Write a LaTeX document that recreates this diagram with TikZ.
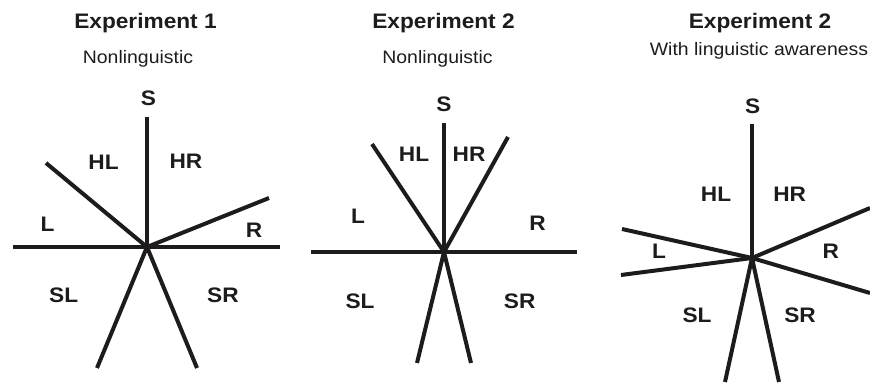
\documentclass[tikz,border=0pt]{standalone}
\usepackage{fontspec}
\setmainfont{Liberation Sans}[FakeStretch=1.08]
\definecolor{ink}{RGB}{30,27,27}
\begin{document}
\begin{tikzpicture}[x=1pt,y=-1pt,
  ray/.style={line width=4pt, draw=ink},
  axisline/.style={line width=4.5pt, draw=ink},
  lbl/.style={font=\fontsize{21}{22}\selectfont\bfseries, text=ink, anchor=base, inner sep=0pt},
  ttl/.style={font=\fontsize{21}{22}\selectfont\bfseries, text=ink, anchor=base, inner sep=0pt},
  sub/.style={font=\fontsize{18}{20}\selectfont, text=ink, anchor=base, inner sep=0pt}]
\useasboundingbox (0,0) rectangle (870,385);

% ---------- Panel 1 ----------
\node[ttl] (t1) at (145.5,28.8) {Experiment 1};
\node[sub] (s1) at (138,63.3) {Nonlinguistic};
\coordinate (c1) at (147,247);
\coordinate (c1S) at (147,117);
\coordinate (c1HL) at (46,163);
\coordinate (c1R) at (269,198);
\coordinate (c1W) at (13,247);
\coordinate (c1E) at (279.5,247);
\coordinate (c1SL) at (97,368);
\coordinate (c1SR) at (197,368);
\draw[axisline] (c1W) -- (c1E);
\draw[ray] (c1) -- (c1S);
\draw[ray] (c1) -- (c1HL);
\draw[ray] (c1) -- (c1R);
\draw[ray] (c1) -- (c1SL);
\draw[ray] (c1) -- (c1SR);
\node[lbl] (l1S) at (148.5,106) {S};
\node[lbl] (l1HL) at (103.5,169) {HL};
\node[lbl] (l1HR) at (186,168) {HR};
\node[lbl] (l1L) at (47.5,231.5) {L};
\node[lbl] (l1R) at (254,237.5) {R};
\node[lbl] (l1SL) at (63.7,302.5) {SL};
\node[lbl] (l1SR) at (223,302.5) {SR};

% ---------- Panel 2 ----------
\node[ttl] (t2) at (443.5,28.8) {Experiment 2};
\node[sub] (s2) at (437.5,63.3) {Nonlinguistic};
\coordinate (c2) at (444,252);
\coordinate (c2S) at (444,123);
\coordinate (c2HL) at (372,144);
\coordinate (c2HR) at (508,137);
\coordinate (c2W) at (311,252);
\coordinate (c2E) at (577,252);
\coordinate (c2SL) at (417,363);
\coordinate (c2SR) at (471,363);
\draw[axisline] (c2W) -- (c2E);
\draw[ray] (c2) -- (c2S);
\draw[ray] (c2) -- (c2HL);
\draw[ray] (c2) -- (c2HR);
\draw[ray] (c2) -- (c2SL);
\draw[ray] (c2) -- (c2SR);
\node[lbl] (l2S) at (444,111.5) {S};
\node[lbl] (l2HL) at (414,161.5) {HL};
\node[lbl] (l2HR) at (469,161.5) {HR};
\node[lbl] (l2L) at (358,223) {L};
\node[lbl] (l2R) at (537.5,230.5) {R};
\node[lbl] (l2SL) at (360,308) {SL};
\node[lbl] (l2SR) at (519.7,308) {SR};

% ---------- Panel 3 ----------
\node[ttl] (t3) at (760,28.8) {Experiment 2};
\node[sub] (s3) at (759,55.5) {With linguistic awareness};
\coordinate (c3) at (752,258);
\coordinate (c3S) at (752,124);
\coordinate (c3LU) at (622,229);
\coordinate (c3LD) at (621,275);
\coordinate (c3RU) at (870,208);
\coordinate (c3RD) at (870,293);
\coordinate (c3SL) at (725,382);
\coordinate (c3SR) at (779,382);
\draw[ray] (c3) -- (c3S);
\draw[ray] (c3) -- (c3LU);
\draw[ray] (c3) -- (c3LD);
\draw[ray] (c3) -- (c3RU);
\draw[ray] (c3) -- (c3RD);
\draw[ray] (c3) -- (c3SL);
\draw[ray] (c3) -- (c3SR);
\node[lbl] (l3S) at (752.7,113.8) {S};
\node[lbl] (l3HL) at (716,201.3) {HL};
\node[lbl] (l3HR) at (789.7,201.3) {HR};
\node[lbl] (l3L) at (659,258.3) {L};
\node[lbl] (l3R) at (830.7,258.3) {R};
\node[lbl] (l3SL) at (697,322.5) {SL};
\node[lbl] (l3SR) at (800,322.5) {SR};
\end{tikzpicture}
\end{document}
